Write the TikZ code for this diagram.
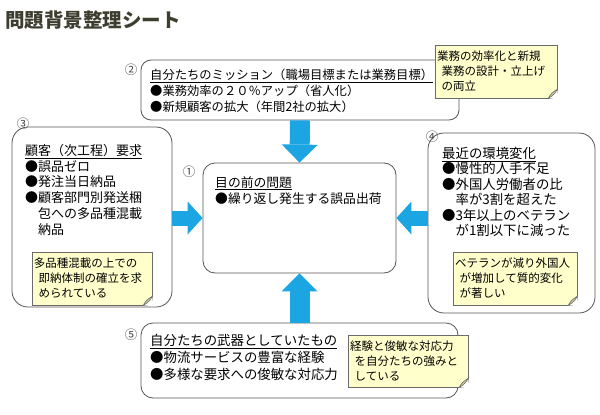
\documentclass[tikz,border=0pt]{standalone}
\usepackage{fontspec}
\setmainfont{Noto Sans CJK JP}
\usetikzlibrary{arrows.meta}
\definecolor{flowblue}{HTML}{1BA5E2}
\definecolor{memofill}{HTML}{FFFFCC}
\definecolor{memoline}{HTML}{6B6B6B}
\definecolor{panelline}{HTML}{555555}
\definecolor{titleink}{HTML}{3E3E30}
\definecolor{numink}{HTML}{444444}
\tikzset{
  panel/.style={draw=panelline, line width=0.8pt, rectangle, inner sep=0pt},
  memo/.style={draw=memoline, fill=memofill, line width=0.6pt, inner xsep=2pt, inner ysep=0pt,
    align=left, font=\fontsize{11.5}{15}\selectfont},
  flowv/.style={draw=flowblue, line width=20pt, -{Triangle[width=36pt,length=18pt,line width=0pt]}},
  flowh/.style={draw=flowblue, line width=15pt, -{Triangle[width=33pt,length=15pt,line width=0pt]}},
  numlabel/.style={text=numink, font=\fontsize{12.5}{12.5}\selectfont, inner sep=0pt},
  bodytext/.style={anchor=north west, align=left, inner sep=0pt, text=black},
}
% folded corner of a memo
\newcommand{\dogear}[1]{%
  \fill[white] ([xshift=-9pt]#1.south east) -- ([xshift=1pt,yshift=-1pt]#1.south east) -- ([yshift=9pt]#1.south east) -- cycle;
  \draw[memoline, line width=0.6pt, fill=memofill!80!black] ([xshift=-9pt]#1.south east)
    .. controls ([xshift=-5pt,yshift=2pt]#1.south east) and ([xshift=-2pt,yshift=5pt]#1.south east) .. ([yshift=9pt]#1.south east)
    .. controls ([xshift=-5pt,yshift=6pt]#1.south east) and ([xshift=-7pt,yshift=4pt]#1.south east) .. cycle;
}
\begin{document}
\begin{tikzpicture}[x=1pt,y=-1pt]
  \fill[white] (0,0) rectangle (600,415);
  \useasboundingbox (0,0) rectangle (600,415);
  \node[anchor=west, text=titleink, font=\fontsize{19.5}{20}\selectfont\bfseries, inner sep=0pt] (sheettitle) at (5,20) {問題背景整理シート};

  % panels
  \node[panel, rounded corners=10pt, minimum width=318pt, minimum height=60pt] (mission) at (300,90) {};
  \node[panel, rounded corners=16pt, minimum width=160pt, minimum height=180pt] (care) at (92,217) {};
  \node[panel, rounded corners=12pt, minimum width=193pt, minimum height=110pt] (problem) at (299.5,218) {};
  \node[panel, rounded corners=16pt, minimum width=167pt, minimum height=180pt] (env) at (511.5,223) {};
  \node[panel, rounded corners=12pt, minimum width=317pt, minimum height=75pt] (weapon) at (299.5,360.5) {};

  % block arrows
  \draw[flowv] (mission.south) -- (problem.north);
  \draw[flowv] (weapon.north) -- (problem.south);
  \draw[flowh] (care.east |- problem.west) -- (problem.west);
  \draw[flowh] (env.west |- problem.east) -- (problem.east);

  % numbers
  \node[numlabel] (nummission) at (131,70) {②};
  \node[numlabel] (numcare) at (23,124) {③};
  \node[numlabel] (numproblem) at (189,172) {①};
  \node[numlabel] (numenv) at (432,137) {④};
  \node[numlabel] (numweapon) at (131,335) {⑤};

  % texts
  \node[bodytext, font=\fontsize{12.3}{16}\selectfont] (missiontext) at (150,69)
    {\underline{自分たちのミッション（職場目標または業務目標）}\\●業務効率の２０％アップ（省人化）\\●新規顧客の拡大（年間2社の拡大）};
  \node[bodytext, font=\fontsize{13}{15.8}\selectfont] (caretext) at (25,144)
    {\underline{顧客（次工程）要求}\\●誤品ゼロ\\●発注当日納品\\●顧客部門別発送梱\\\hphantom{●}包への多品種混載\\\hphantom{●}納品};
  \node[bodytext, font=\fontsize{12.8}{16}\selectfont] (problemtext) at (215,176)
    {\underline{目の前の問題}\\●繰り返し発生する誤品出荷};
  \node[bodytext, font=\fontsize{13.4}{15.5}\selectfont] (envtext) at (442,147)
    {\underline{最近の環境変化}\\●慢性的人手不足\\●外国人労働者の比\\\hphantom{●}率が3割を超えた\\●3年以上のベテラン\\\hphantom{●}が1割以下に減った};
  \node[bodytext, font=\fontsize{13.4}{17}\selectfont] (weapontext) at (150,334)
    {\underline{自分たちの武器としていたもの}\\●物流サービスの豊富な経験\\●多様な要求への俊敏な対応力};

  % memos
  \node[memo, minimum width=122pt, minimum height=53pt, text width=118pt] (missionmemo) at (496,71.5)
    {業務の効率化と新規\\\hspace*{0.4em}業務の設計・立上げ\\\hspace*{0.4em}の両立};
  \dogear{missionmemo}
  \node[memo, minimum width=120pt, minimum height=53pt, text width=116pt] (carememo) at (92,278.5)
    {多品種混載の上での\\\hspace*{0.4em}即納体制の確立を求\\\hspace*{0.4em}められている};
  \dogear{carememo}
  \node[memo, minimum width=124pt, minimum height=53pt, text width=120pt] (envmemo) at (515,278.5)
    {ベテランが減り外国人\\\hspace*{0.4em}が増加して質的変化\\\hspace*{0.4em}が著しい};
  \dogear{envmemo}
  \node[memo, minimum width=120pt, minimum height=52pt, text width=116pt] (weaponmemo) at (408,361)
    {経験と俊敏な対応力\\\hspace*{0.4em}を自分たちの強みと\\\hspace*{0.4em}している};
  \dogear{weaponmemo}
\end{tikzpicture}
\end{document}
